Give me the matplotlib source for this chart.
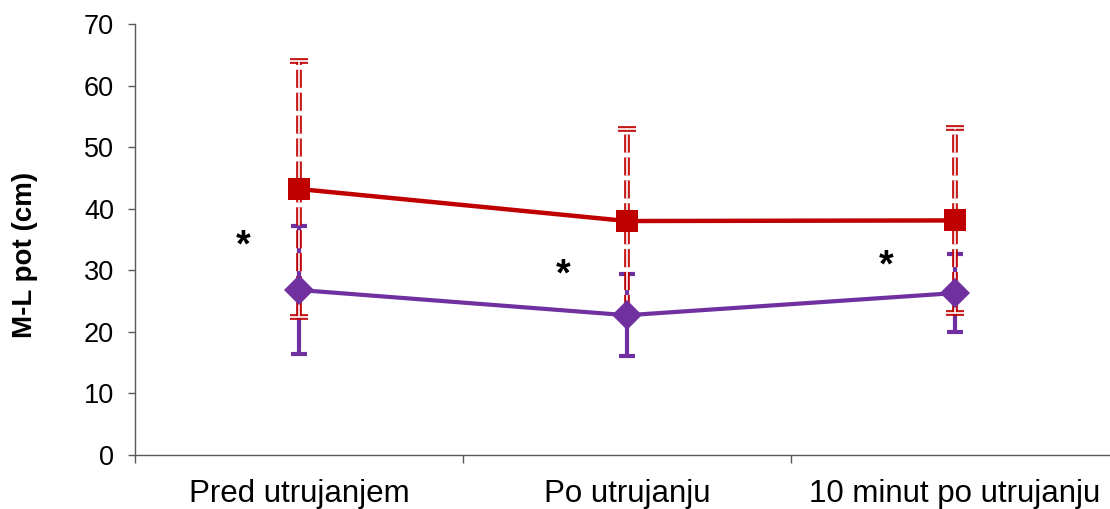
import matplotlib.pyplot as plt
import numpy as np

plt.rcParams['font.family'] = ['Liberation Sans', 'DejaVu Sans']
plt.rcParams['lines.scale_dashes'] = False

categories = ['Pred utrujanjem', 'Po utrujanju', '10 minut po utrujanju']
red_mean = [43.2, 38.0, 38.1]
red_sd = [20.8, 15.0, 15.0]
purple_mean = [26.8, 22.7, 26.3]
purple_sd = [10.4, 6.7, 6.3]
star_x = [0.83, 1.805, 2.79]
star_y = [35.2, 30.5, 32.0]

red = '#C00000'
purple = '#7030A0'

fig = plt.figure(figsize=(11.1, 5.09), dpi=100)
ax = fig.add_axes([135 / 1110, 54 / 509, 984 / 1110, 431 / 509])
x = np.arange(1, len(categories) + 1)

# purple error bars (solid)
ax.errorbar(x, purple_mean, yerr=purple_sd, fmt='none', ecolor=purple,
            elinewidth=3, capsize=6, capthick=3, zorder=2)

# red error bars: dashed, drawn as a double line with a white core
dash = (0, (13, 3.5))
eb = ax.errorbar(x, red_mean, yerr=red_sd, fmt='none', ecolor=red,
                 elinewidth=4.2, capsize=6.5, capthick=4.2, zorder=3, alpha=0.9)
eb[2][0].set_linestyle(dash)
eb = ax.errorbar(x, red_mean, yerr=red_sd, fmt='none', ecolor='white',
                 elinewidth=1.2, capsize=7, capthick=1.2, zorder=3.1)
eb[2][0].set_linestyle(dash)

ax.plot(x, purple_mean, color=purple, lw=3, marker='D', markersize=15,
        markeredgewidth=0, zorder=4)
ax.plot(x, red_mean, color=red, lw=3.2, marker='s', markersize=16.5,
        markeredgewidth=0, zorder=5)

for sx, sy in zip(star_x, star_y):
    ax.text(sx, sy - 1.4, '*', fontsize=27, fontweight='bold',
            ha='center', va='center', color='black')

ax.set_xlim(0.5, 3.5)
ax.set_ylim(0, 70)
ax.set_yticks(range(0, 71, 10))
ax.set_xticks(x)
ax.set_xticklabels(categories)
ax.set_xticks([0.5, 1.5, 2.5, 3.5], minor=True)
ax.tick_params(axis='x', which='major', length=0, pad=17, labelsize=22.5)
ax.tick_params(axis='x', which='minor', length=6, direction='out',
               color='#595959', width=1)
ax.tick_params(axis='y', length=5, direction='out', color='#595959',
               width=1, pad=10, labelsize=19.5)

for side in ['top', 'right']:
    ax.spines[side].set_visible(False)
for side in ['left', 'bottom']:
    ax.spines[side].set_color('#595959')
    ax.spines[side].set_linewidth(1)

ax.set_ylabel('M-L pot (cm)', fontsize=20, fontweight='bold')
ax.yaxis.set_label_coords(-0.099, 0.464)

fig.savefig('out.png', dpi=100)
